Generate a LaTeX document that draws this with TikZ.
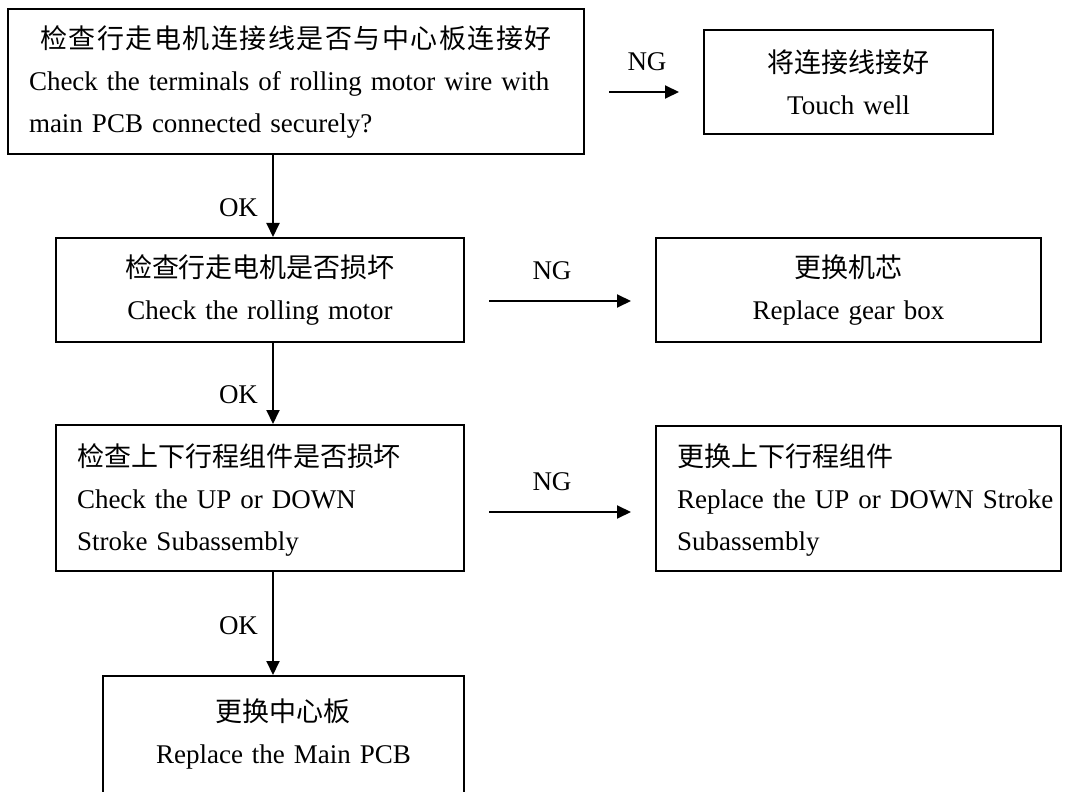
\documentclass[tikz,border=0pt]{standalone}
\usepackage{fontspec}
\setmainfont{Liberation Serif}
\newfontfamily\cjk{Noto Sans CJK SC}
\newfontfamily\cjkwide[LetterSpace=5.5]{Noto Sans CJK SC}
\usetikzlibrary{arrows.meta}

\begin{document}
\begin{tikzpicture}[
    x=0.5pt, y=-0.5pt, % 1 unit = 1 pixel of the 1078x792 frame, y downwards
    >={Triangle[length=7pt,width=6.5pt]},
    % Box style: text width (#1), border and font
    box/.style={draw,line width=1pt,inner xsep=10.5pt,inner ysep=0pt,text width=#1,font=\fontsize{13.5}{21}\selectfont},
    % Label style for OK / NG
    lbl/.style={font=\fontsize{13.5}{21}\selectfont,inner sep=0pt},
    flow/.style={->,line width=1pt}
]
\useasboundingbox (0,0) rectangle (1078,792);

% ==============================
% TUNING KNOBS
% ==============================
\def\xA{273}    % x of the vertical OK arrows
\def\gap{12pt}  % gap between NG arrows and boxes

% ==============================
% LEFT COLUMN: checks
% ==============================
\node[box=267pt,align=left,minimum height=72.5pt,text height=12pt] (chkwire) at (296,81.5)
    {\makebox[\hsize][c]{\cjkwide 检查行走电机连接线是否与中心板连接好}\\
     \mbox{Check the terminals of rolling motor wire with}\\
     main PCB connected securely?};
\node[box=183pt,align=center,minimum height=52pt] (chkmotor) at (260,290)
    {{\cjk 检查行走电机是否损坏}\\Check the rolling motor};
\node[box=183pt,align=left,minimum height=73pt,text height=13pt] (chkstroke) at (260,498)
    {{\cjk 检查上下行程组件是否损坏}\\Check the UP or DOWN\\Stroke Subassembly};
\node[box=159.5pt,align=center,anchor=north,inner ysep=10.5pt,text height=12pt,text depth=39.5pt] (newpcb) at (283.5,675)
    {{\cjk 更换中心板}\\Replace the Main PCB};

% ==============================
% RIGHT COLUMN: repairs
% ==============================
\node[box=123.5pt,align=center,minimum height=52pt] (fixwire) at (848.5,82)
    {{\cjk 将连接线接好}\\Touch well};
\node[box=171.5pt,align=center,minimum height=52pt] (newgear) at (848.5,290)
    {{\cjk 更换机芯}\\Replace gear box};
\node[box=181.5pt,align=left,minimum height=72.5pt,text height=13pt] (newstroke) at (858.5,498.5)
    {{\cjk 更换上下行程组件}\\\mbox{Replace the UP or DOWN Stroke}\\Subassembly};

% ==============================
% OK ARROWS (downwards)
% ==============================
\coordinate (ax) at (\xA,0);
\draw[flow] (chkwire.south -| ax) -- node[lbl,left=7pt,pos=.64] {OK} (chkmotor.north -| ax);
\draw[flow] (chkmotor.south -| ax) -- node[lbl,left=7pt,pos=.64] {OK} (chkstroke.north -| ax);
\draw[flow] (chkstroke.south -| ax) -- node[lbl,left=7pt,pos=.52] {OK} (newpcb.north -| ax);

% ==============================
% NG ARROWS (to the right)
% ==============================
\draw[flow,shorten <=\gap,shorten >=\gap] ([yshift=-5.25pt]chkwire.east) -- node[lbl,above=10pt,xshift=1.5pt] {NG} ([yshift=-5.25pt]chkwire.east -| fixwire.west);
\draw[flow,shorten <=\gap,shorten >=\gap] ([yshift=-5.5pt]chkmotor.east) -- node[lbl,above=10pt,xshift=-4pt] {NG} ([yshift=-5.5pt]chkmotor.east -| newgear.west);
\draw[flow,shorten <=\gap,shorten >=\gap] ([yshift=-7pt]chkstroke.east) -- node[lbl,above=10pt,xshift=-4pt] {NG} ([yshift=-7pt]chkstroke.east -| newstroke.west);
\end{tikzpicture}
\end{document}
